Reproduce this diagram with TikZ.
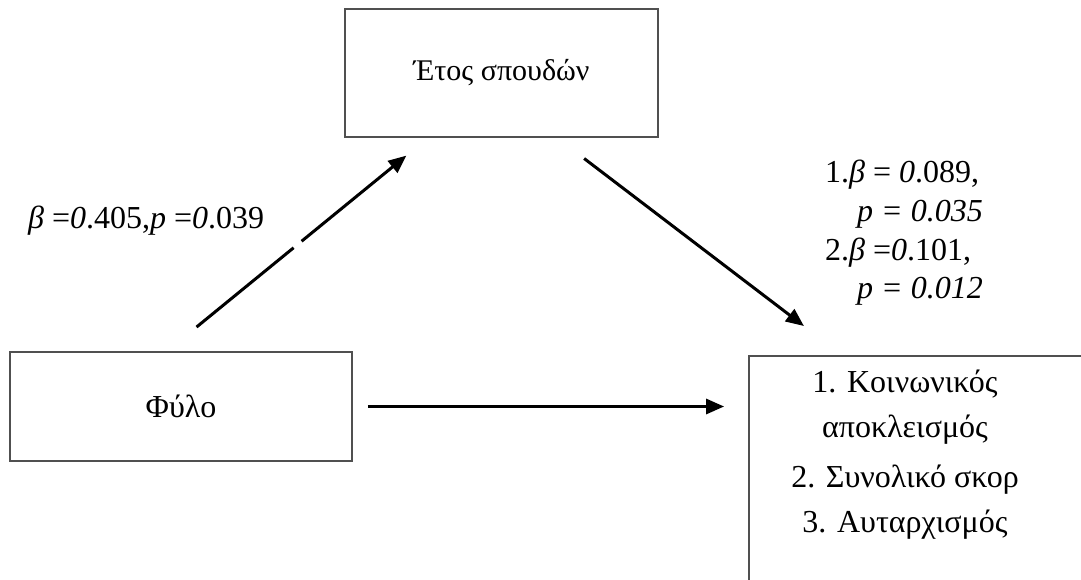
\documentclass[tikz,border=0pt]{standalone}
\usepackage{fontspec}
\setmainfont{Liberation Serif}
\usetikzlibrary{arrows.meta}

\definecolor{boxgray}{HTML}{505050}
\tikzset{
  box/.style={draw=boxgray, line width=1.8pt, inner sep=0pt},
  effect/.style={line width=3pt, -{Triangle[length=18pt,width=15pt]}},
  coef/.style={inner sep=0pt},
  gap/.style={midway, sloped, fill=white, minimum width=10pt, minimum height=9pt, inner sep=0pt},
}

\begin{document}
\begin{tikzpicture}[x=1pt, y=-1pt, font=\fontsize{32}{45}\selectfont]
  \useasboundingbox (0,0) rectangle (1081,580);

  % boxes
  \node[box, minimum width=313pt, minimum height=128pt, font=\fontsize{30}{36}\selectfont] (etos) at (501.5,73) {Έτος σπουδών};
  \node[box, minimum width=342pt, minimum height=109pt] (fylo) at (181,406.5) {Φύλο};
  \node[box, minimum width=360pt, minimum height=264pt] (outcome) at (929,488) {};
  \node[align=center] (outtext) at (905,455) {1. Κοινωνικός\\αποκλεισμός\\[5pt]2. Συνολικό σκορ\\[0pt]3. Αυταρχισμός};

  % paths
  \draw[effect, shorten <=38pt, shorten >=28pt] ([xshift=158pt]fylo.north west) -- node[gap]{} ([xshift=84pt]etos.south west);
  \draw[effect, shorten <=34pt, shorten >=48pt] ([xshift=213pt]etos.south west) -- ([xshift=94pt]outcome.north west);
  \draw[effect, shorten <=15pt, shorten >=24pt] (fylo.east) -- (fylo.east -| outcome.west);

  % coefficients
  \node[coef, anchor=base west] (bfylo) at (28,228) {\textit{β} =\textit{0}.405,\textit{p} =\textit{0}.039};
  \node[coef, anchor=base west] (b1) at (825,183) {1.\textit{β} = \textit{0}.089,};
  \node[coef, anchor=base west] (p1) at (857,222) {\textit{p = 0.035}};
  \node[coef, anchor=base west] (b2) at (825,260) {2.\textit{β} =\textit{0}.101,};
  \node[coef, anchor=base west] (p2) at (857,298) {\textit{p = 0.012}};
\end{tikzpicture}
\end{document}
